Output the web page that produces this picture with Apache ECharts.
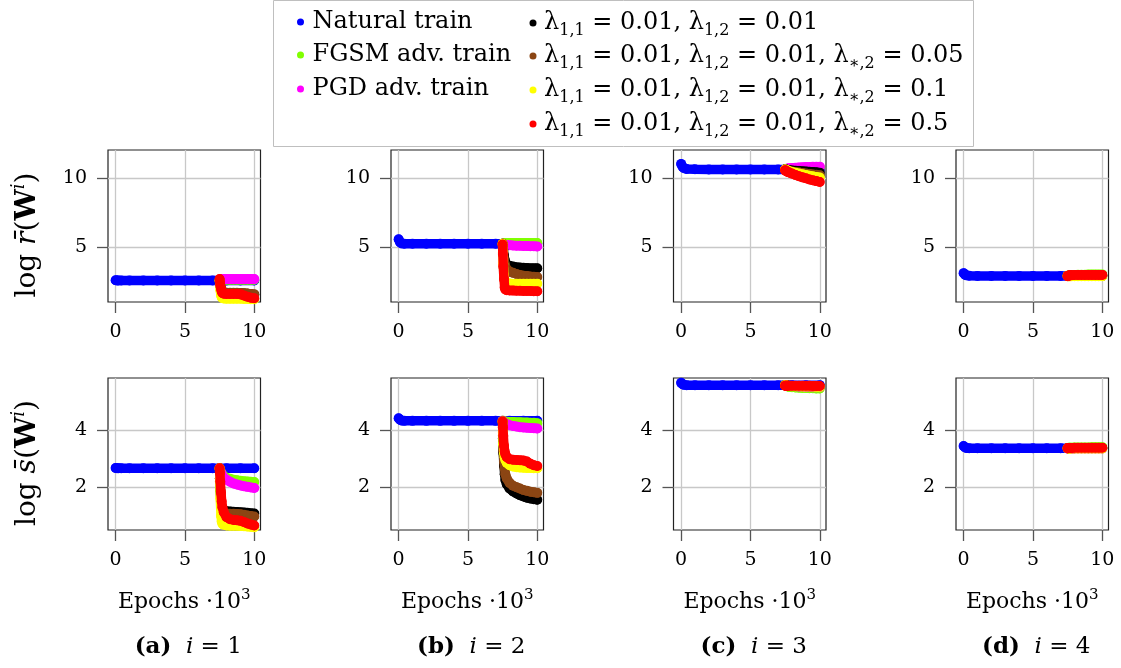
<!DOCTYPE html>
<html><head><meta charset="utf-8">
<script src="https://cdn.jsdelivr.net/npm/echarts@6/dist/echarts.min.js"></script>
<style>html,body{margin:0;padding:0;background:#fff}#c{width:1121px;height:668px}</style>
</head><body><div id="c"></div><script>
const FONT = 'DejaVu Serif';

// ---------- data ----------
const epochNat = [0, 0.1, 0.2, 0.4, 1, 2, 3, 4, 5, 6, 7, 8, 9, 10];
const epochAdv = [7.5, 7.52, 7.55, 7.6, 7.65, 7.7, 7.8, 8, 8.25, 8.5, 8.75, 9, 9.25, 9.5, 9.75, 10];
const xTicks = [0, 5, 10];
const yTicksR = [5, 10];
const yTicksS = [2, 4];
const panelLetters = ['a', 'b', 'c', 'd'];
const panelIndex = [1, 2, 3, 4];
const seriesNames = [
  'Natural train', 'FGSM adv. train', 'PGD adv. train',
  'λ1,1 = 0.01, λ1,2 = 0.01',
  'λ1,1 = 0.01, λ1,2 = 0.01, λ∗,2 = 0.05',
  'λ1,1 = 0.01, λ1,2 = 0.01, λ∗,2 = 0.1',
  'λ1,1 = 0.01, λ1,2 = 0.01, λ∗,2 = 0.5'
];
const seriesColors = ['#0000ff', '#80ff00', '#ff00ff', '#000000', '#8b4513', '#ffff00', '#ff0000'];

// log r-bar (top row), one inner array per panel (a..d)
const naturalR = [
  [2.62, 2.6, 2.6, 2.6, 2.6, 2.6, 2.6, 2.6, 2.6, 2.6, 2.6, 2.6, 2.6, 2.6],
  [5.57, 5.35, 5.27, 5.24, 5.24, 5.24, 5.24, 5.24, 5.24, 5.24, 5.24, 5.24, 5.24, 5.24],
  [11.0, 10.8, 10.68, 10.63, 10.61, 10.6, 10.6, 10.6, 10.6, 10.6, 10.6, 10.6, 10.6, 10.6],
  [3.13, 3.02, 2.97, 2.94, 2.93, 2.93, 2.93, 2.93, 2.93, 2.93, 2.93, 2.93, 2.93, 2.93]
];
const fgsmR = [
  [2.6, 2.62, 2.63, 2.64, 2.65, 2.65, 2.66, 2.66, 2.66, 2.66, 2.66, 2.66, 2.66, 2.66, 2.66, 2.66],
  [5.24, 5.25, 5.26, 5.27, 5.28, 5.28, 5.29, 5.3, 5.3, 5.3, 5.3, 5.3, 5.3, 5.3, 5.3, 5.3],
  [10.6, 10.6, 10.61, 10.62, 10.63, 10.64, 10.65, 10.67, 10.68, 10.7, 10.71, 10.72, 10.73, 10.73, 10.74, 10.75],
  [2.93, 2.94, 2.95, 2.96, 2.97, 2.98, 2.99, 3.0, 3.01, 3.02, 3.02, 3.03, 3.03, 3.03, 3.04, 3.04]
];
const pgdR = [
  [2.6, 2.63, 2.65, 2.67, 2.68, 2.69, 2.7, 2.7, 2.7, 2.7, 2.7, 2.7, 2.7, 2.7, 2.7, 2.7],
  [5.24, 5.22, 5.2, 5.18, 5.17, 5.16, 5.15, 5.14, 5.12, 5.11, 5.1, 5.09, 5.08, 5.07, 5.06, 5.05],
  [10.6, 10.61, 10.62, 10.63, 10.65, 10.66, 10.68, 10.7, 10.72, 10.74, 10.76, 10.77, 10.78, 10.79, 10.8, 10.8],
  [2.93, 2.93, 2.93, 2.94, 2.94, 2.94, 2.95, 2.95, 2.96, 2.96, 2.96, 2.97, 2.97, 2.97, 2.97, 2.98]
];
const reg1R = [
  [2.6, 2.4, 2.2, 2.0, 1.88, 1.78, 1.72, 1.7, 1.7, 1.7, 1.69, 1.68, 1.66, 1.64, 1.61, 1.58],
  [5.24, 5.1, 4.8, 4.4, 4.1, 3.9, 3.75, 3.66, 3.6, 3.56, 3.53, 3.51, 3.5, 3.49, 3.49, 3.48],
  [10.6, 10.6, 10.59, 10.58, 10.57, 10.56, 10.55, 10.53, 10.51, 10.49, 10.47, 10.45, 10.43, 10.41, 10.39, 10.37],
  [2.93, 2.93, 2.93, 2.93, 2.93, 2.93, 2.94, 2.94, 2.94, 2.94, 2.95, 2.95, 2.95, 2.95, 2.95, 2.95]
];
const reg2R = [
  [2.6, 2.4, 2.2, 2.0, 1.9, 1.8, 1.75, 1.72, 1.72, 1.72, 1.71, 1.7, 1.68, 1.66, 1.63, 1.6],
  [5.24, 5.0, 4.6, 4.1, 3.8, 3.6, 3.4, 3.25, 3.15, 3.07, 3.0, 2.95, 2.92, 2.89, 2.87, 2.85],
  [10.6, 10.59, 10.58, 10.56, 10.54, 10.52, 10.5, 10.46, 10.42, 10.38, 10.34, 10.3, 10.27, 10.24, 10.21, 10.18],
  [2.93, 2.92, 2.92, 2.92, 2.92, 2.92, 2.92, 2.93, 2.93, 2.93, 2.93, 2.93, 2.93, 2.93, 2.93, 2.93]
];
const reg3R = [
  [2.6, 2.3, 1.9, 1.55, 1.4, 1.33, 1.3, 1.28, 1.28, 1.28, 1.28, 1.28, 1.27, 1.26, 1.25, 1.25],
  [5.24, 4.6, 3.8, 3.0, 2.6, 2.45, 2.4, 2.38, 2.37, 2.37, 2.37, 2.37, 2.37, 2.37, 2.37, 2.37],
  [10.6, 10.58, 10.56, 10.54, 10.52, 10.5, 10.47, 10.42, 10.36, 10.3, 10.25, 10.2, 10.15, 10.1, 10.06, 10.02],
  [2.93, 2.92, 2.91, 2.9, 2.9, 2.9, 2.9, 2.9, 2.9, 2.9, 2.9, 2.9, 2.9, 2.9, 2.9, 2.9]
];
const reg4R = [
  [2.7, 2.5, 2.25, 2.0, 1.8, 1.7, 1.65, 1.63, 1.62, 1.62, 1.62, 1.6, 1.52, 1.43, 1.36, 1.32],
  [5.2, 4.5, 3.6, 2.7, 2.1, 1.95, 1.9, 1.88, 1.87, 1.86, 1.86, 1.85, 1.85, 1.84, 1.83, 1.82],
  [10.55, 10.52, 10.5, 10.47, 10.44, 10.42, 10.38, 10.3, 10.2, 10.11, 10.03, 9.96, 9.88, 9.82, 9.76, 9.7],
  [2.9, 2.93, 2.95, 2.96, 2.97, 2.98, 2.98, 2.99, 2.99, 2.99, 3.0, 3.0, 3.0, 3.0, 3.0, 3.0]
];

// log s-bar (bottom row)
const naturalS = [
  [2.67, 2.66, 2.66, 2.66, 2.66, 2.66, 2.66, 2.66, 2.66, 2.66, 2.66, 2.66, 2.66, 2.66],
  [4.41, 4.36, 4.33, 4.32, 4.32, 4.32, 4.32, 4.32, 4.32, 4.32, 4.32, 4.32, 4.32, 4.32],
  [5.65, 5.6, 5.58, 5.57, 5.57, 5.57, 5.57, 5.57, 5.57, 5.57, 5.57, 5.57, 5.57, 5.57],
  [3.44, 3.39, 3.37, 3.36, 3.36, 3.36, 3.36, 3.36, 3.36, 3.36, 3.36, 3.36, 3.36, 3.36]
];
const fgsmS = [
  [2.66, 2.62, 2.58, 2.52, 2.47, 2.43, 2.38, 2.33, 2.29, 2.26, 2.24, 2.22, 2.21, 2.2, 2.19, 2.18],
  [4.32, 4.32, 4.31, 4.3, 4.3, 4.29, 4.29, 4.28, 4.28, 4.27, 4.27, 4.26, 4.26, 4.25, 4.25, 4.24],
  [5.57, 5.56, 5.55, 5.54, 5.53, 5.52, 5.51, 5.5, 5.49, 5.48, 5.47, 5.47, 5.46, 5.46, 5.45, 5.45],
  [3.36, 3.37, 3.37, 3.38, 3.38, 3.38, 3.38, 3.39, 3.39, 3.39, 3.39, 3.39, 3.4, 3.4, 3.4, 3.4]
];
const pgdS = [
  [2.66, 2.62, 2.57, 2.5, 2.44, 2.39, 2.33, 2.26, 2.19, 2.13, 2.09, 2.06, 2.03, 2.01, 1.99, 1.97],
  [4.32, 4.3, 4.28, 4.26, 4.24, 4.22, 4.2, 4.17, 4.14, 4.12, 4.1, 4.09, 4.08, 4.07, 4.06, 4.05],
  [5.57, 5.56, 5.56, 5.55, 5.55, 5.54, 5.54, 5.53, 5.53, 5.52, 5.52, 5.51, 5.51, 5.5, 5.5, 5.5],
  [3.36, 3.35, 3.34, 3.34, 3.34, 3.34, 3.34, 3.35, 3.35, 3.35, 3.35, 3.35, 3.35, 3.35, 3.35, 3.35]
];
const reg1S = [
  [2.66, 2.3, 1.9, 1.5, 1.3, 1.22, 1.18, 1.16, 1.15, 1.14, 1.13, 1.12, 1.11, 1.1, 1.09, 1.08],
  [4.3, 3.7, 3.2, 2.75, 2.45, 2.25, 2.1, 1.95, 1.85, 1.78, 1.72, 1.67, 1.63, 1.6, 1.58, 1.56],
  [5.57, 5.57, 5.56, 5.56, 5.55, 5.55, 5.55, 5.54, 5.54, 5.54, 5.53, 5.53, 5.53, 5.53, 5.52, 5.52],
  [3.36, 3.36, 3.36, 3.36, 3.37, 3.37, 3.37, 3.37, 3.37, 3.37, 3.37, 3.37, 3.37, 3.37, 3.37, 3.37]
];
const reg2S = [
  [2.66, 2.3, 1.9, 1.45, 1.25, 1.15, 1.1, 1.08, 1.07, 1.07, 1.06, 1.05, 1.03, 1.01, 0.99, 0.97],
  [4.3, 3.8, 3.3, 2.9, 2.65, 2.45, 2.3, 2.15, 2.05, 2.0, 1.95, 1.9, 1.87, 1.84, 1.82, 1.8],
  [5.57, 5.57, 5.56, 5.56, 5.55, 5.55, 5.54, 5.54, 5.54, 5.53, 5.53, 5.53, 5.52, 5.52, 5.52, 5.52],
  [3.36, 3.36, 3.36, 3.36, 3.36, 3.36, 3.36, 3.36, 3.36, 3.36, 3.36, 3.36, 3.36, 3.36, 3.36, 3.36]
];
const reg3S = [
  [2.66, 2.2, 1.6, 1.0, 0.8, 0.72, 0.68, 0.66, 0.65, 0.65, 0.65, 0.64, 0.63, 0.62, 0.61, 0.6],
  [4.3, 3.9, 3.5, 3.2, 3.05, 2.95, 2.85, 2.77, 2.72, 2.7, 2.69, 2.68, 2.67, 2.67, 2.66, 2.66],
  [5.57, 5.56, 5.56, 5.55, 5.55, 5.54, 5.54, 5.53, 5.53, 5.53, 5.52, 5.52, 5.52, 5.52, 5.51, 5.51],
  [3.36, 3.35, 3.35, 3.35, 3.35, 3.35, 3.35, 3.35, 3.35, 3.35, 3.35, 3.35, 3.35, 3.35, 3.35, 3.35]
];
const reg4S = [
  [2.66, 2.5, 2.2, 1.8, 1.5, 1.3, 1.12, 0.95, 0.88, 0.85, 0.84, 0.82, 0.78, 0.73, 0.69, 0.66],
  [4.3, 4.1, 3.8, 3.45, 3.25, 3.15, 3.05, 2.98, 2.96, 2.95, 2.94, 2.93, 2.9, 2.82, 2.77, 2.74],
  [5.55, 5.55, 5.55, 5.55, 5.55, 5.55, 5.55, 5.55, 5.55, 5.55, 5.55, 5.55, 5.55, 5.54, 5.54, 5.54],
  [3.36, 3.36, 3.37, 3.37, 3.37, 3.37, 3.37, 3.38, 3.38, 3.38, 3.38, 3.38, 3.38, 3.38, 3.38, 3.38]
];

// ---------- layout ----------
const gridLefts = [108, 391, 673.5, 956];
const gridWidth = 152.5;
const rowTops = [150, 378];
const gridHeight = 152;
const yRanges = [[1.05, 12], [0.5, 5.82]];
const xRange = [-0.55, 10.45];

const rowData = [
  [naturalR, fgsmR, pgdR, reg1R, reg2R, reg3R, reg4R],
  [naturalS, fgsmS, pgdS, reg1S, reg2S, reg3S, reg4S]
];

function zip(xs, ys) { return xs.map((x, i) => [x, ys[i]]); }

const grids = [], xAxes = [], yAxes = [], series = [];
const yNameRich = {
  t: {fontFamily: FONT, fontSize: 28, color: '#000'},
  it: {fontFamily: FONT, fontSize: 28, fontStyle: 'italic', color: '#000'},
  b: {fontFamily: FONT, fontSize: 28, fontWeight: 'bold', color: '#000'},
  sup: {fontFamily: FONT, fontSize: 18, fontStyle: 'italic', color: '#000', padding: [0, 0, 18, 0]}
};
const yNames = ['{t|log }{it|r\u0304}{t|(}{b|W}{sup|i}{t|)}', '{t|log }{it|s\u0304}{t|(}{b|W}{sup|i}{t|)}'];

for (let r = 0; r < 2; r++) {
  for (let c = 0; c < 4; c++) {
    const k = r * 4 + c;
    grids.push({left: gridLefts[c], top: rowTops[r], width: gridWidth, height: gridHeight,
      show: true, borderColor: '#222', borderWidth: 1.2, backgroundColor: 'transparent', containLabel: false});
    xAxes.push({
      gridIndex: k, type: 'value', min: xRange[0], max: xRange[1],
      axisLine: {show: false, onZero: false},
      axisTick: {show: true, inside: false, length: 11, customValues: xTicks, lineStyle: {color: '#555', width: 1.3}},
      axisLabel: {customValues: xTicks, fontFamily: FONT, fontSize: 19, color: '#000', margin: 21},
      splitLine: {show: true, lineStyle: {color: '#c8c8c8', width: 1.3}},
      name: r === 1 ? '{t|Epochs ·10}{sup|3}' : '',
      nameLocation: 'middle', nameGap: 58,
      nameTextStyle: {rich: {
        t: {fontFamily: FONT, fontSize: 22, color: '#000'},
        sup: {fontFamily: FONT, fontSize: 15, color: '#000', padding: [0, 0, 14, 0]}
      }}
    });
    yAxes.push({
      gridIndex: k, type: 'value', min: yRanges[r][0], max: yRanges[r][1],
      axisLine: {show: false, onZero: false},
      axisTick: {show: true, inside: false, length: 11, customValues: r === 0 ? yTicksR : yTicksS, lineStyle: {color: '#555', width: 1.3}},
      axisLabel: {customValues: r === 0 ? yTicksR : yTicksS, fontFamily: FONT, fontSize: 19, color: '#000', margin: 21},
      splitLine: {show: true, lineStyle: {color: '#c8c8c8', width: 1.3}},
      name: c === 0 ? yNames[r] : '',
      nameLocation: 'middle', nameRotate: 90, nameGap: 62,
      nameTextStyle: {rich: yNameRich, padding: [0, 18, 0, 0]}
    });
    const arrs = rowData[r];
    for (let s = 0; s < 7; s++) {
      const xs = s === 0 ? epochNat : epochAdv;
      series.push({
        type: 'line', name: seriesNames[s], xAxisIndex: k, yAxisIndex: k,
        data: zip(xs, arrs[s][c]),
        symbol: 'circle', symbolSize: 10, showSymbol: true,
        lineStyle: {width: 9.5, color: seriesColors[s], cap: 'round', join: 'round'},
        itemStyle: {color: seriesColors[s]},
        animation: false, silent: true, z: 2 + s * 0.01
      });
    }
  }
}

// ---------- legend ----------
function legendRich(name) {
  if (name.indexOf('λ') !== 0) return '{m|' + name + '}';
  return name.split(', ').map(part => {
    const m = part.match(/^λ(\S+) = (.+)$/);
    return '{m|λ}{sub|' + m[1] + '}{m| = ' + m[2] + '}';
  }).join('{m|, }');
}
const legendRichStyles = {
  m: {fontFamily: FONT, fontSize: 24, color: '#000', lineHeight: 30},
  sub: {fontFamily: FONT, fontSize: 16, color: '#000', lineHeight: 30, padding: [16, 0, 0, 0]}
};
const legendPos = [
  [297, 22, 14], [297, 55, 14], [297, 89, 14],
  [529.5, 22, 12], [529.5, 55, 12], [529.5, 89, 12], [529.5, 123, 12]
];
const legends = seriesNames.map((nm, i) => ({
  data: [nm], left: legendPos[i][0], top: legendPos[i][1] - 15, padding: 0,
  itemWidth: legendPos[i][2], itemHeight: 7, icon: 'circle', selectedMode: false,
  formatter: legendRich, textStyle: {rich: legendRichStyles, fontFamily: FONT, fontSize: 24, lineHeight: 30}
}));

// ---------- subcaptions ----------
const capRich = {
  b: {fontFamily: FONT, fontSize: 23, fontWeight: 'bold', color: '#000'},
  t: {fontFamily: FONT, fontSize: 23, color: '#000'},
  it: {fontFamily: FONT, fontSize: 23, fontStyle: 'italic', color: '#000'}
};
const graphics = [{
  type: 'rect', shape: {x: 273.5, y: 0.5, width: 700, height: 146}, z: 0,
  style: {fill: 'none', stroke: '#bfbfbf', lineWidth: 1}
}];
for (let c = 0; c < 4; c++) {
  graphics.push({
    type: 'text', x: gridLefts[c] + gridWidth / 2 + 4, y: 647,
    style: {text: '{b|(' + panelLetters[c] + ')}{t|  }{it|i}{t| = ' + panelIndex[c] + '}', rich: capRich,
      align: 'center', verticalAlign: 'middle'}
  });
}

const chart = echarts.init(document.getElementById('c'), null, {renderer: 'canvas'});
chart.setOption({
  animation: false,
  backgroundColor: '#fff',
  grid: grids, xAxis: xAxes, yAxis: yAxes, series: series,
  legend: legends, graphic: graphics
});
</script></body></html>
